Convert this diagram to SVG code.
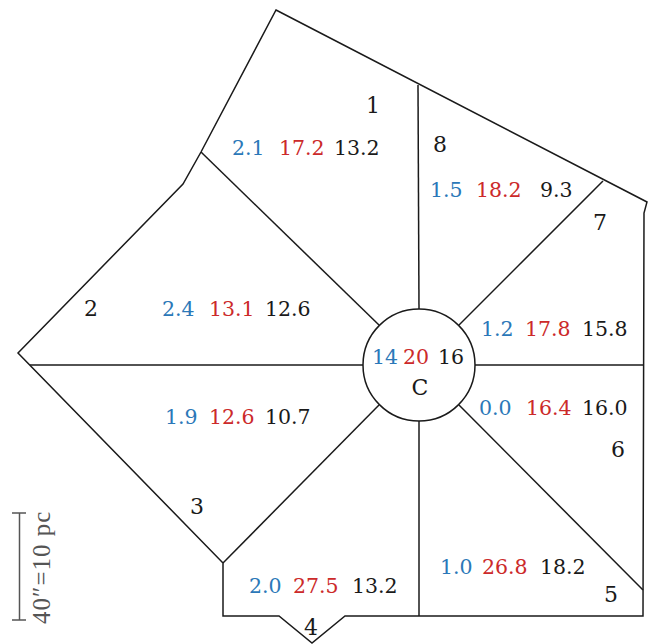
<svg xmlns="http://www.w3.org/2000/svg" width="655" height="644" viewBox="0 0 655 644">
<style>
.ln{fill:none;stroke:#1a1a1a;stroke-width:1.5;stroke-linejoin:miter}
text{font-family:"DejaVu Serif","Liberation Serif",serif;font-size:20.5px}
.b{fill:#2b78b8}
.r{fill:#cc2a2a}
.k{fill:#1a1a1a}
.lab{fill:#1a1a1a;font-size:22px;text-anchor:middle}
</style>
<rect width="655" height="644" fill="#fff"/>
<g id="outline">
<polygon class="ln" points="276,10 647,202 644,213 643,616 345,616 312,643 279,616 223,616 223,563 18,353 183,184 201,152"/>
<circle class="ln" cx="419" cy="365" r="56"/>
</g>
<g id="connectors">
<line class="ln" x1="418" y1="85" x2="419" y2="309"/>
<line class="ln" x1="419" y1="421" x2="419" y2="616"/>
<line class="ln" x1="30" y1="365" x2="363" y2="365"/>
<line class="ln" x1="475" y1="365" x2="643" y2="365"/>
<line class="ln" x1="201" y1="152" x2="379" y2="325"/>
<line class="ln" x1="379" y1="405" x2="223" y2="563"/>
<line class="ln" x1="459" y1="325" x2="603" y2="181"/>
<line class="ln" x1="459" y1="405" x2="643" y2="590"/>
</g>
<g id="region1">
<text class="lab" x="373" y="113">1</text>
<text class="b" x="232" y="155">2.1</text><text class="r" x="279" y="155">17.2</text><text class="k" x="334" y="155">13.2</text>
</g>
<g id="region8">
<text class="lab" x="440" y="152">8</text>
<text class="b" x="430" y="197">1.5</text><text class="r" x="476" y="197">18.2</text><text class="k" x="540" y="197">9.3</text>
</g>
<g id="region2">
<text class="lab" x="91" y="316">2</text>
<text class="b" x="162" y="316">2.4</text><text class="r" x="209" y="316">13.1</text><text class="k" x="265" y="316">12.6</text>
</g>
<g id="region3">
<text class="lab" x="197" y="514">3</text>
<text class="b" x="165" y="424">1.9</text><text class="r" x="209" y="424">12.6</text><text class="k" x="265" y="424">10.7</text>
</g>
<g id="region4">
<text class="lab" x="311" y="635">4</text>
<text class="b" x="249" y="593">2.0</text><text class="r" x="293" y="593">27.5</text><text class="k" x="352" y="593">13.2</text>
</g>
<g id="region5">
<text class="lab" x="611" y="602">5</text>
<text class="b" x="440" y="574">1.0</text><text class="r" x="482" y="574">26.8</text><text class="k" x="540" y="574">18.2</text>
</g>
<g id="region6">
<text class="lab" x="618" y="457">6</text>
<text class="b" x="479" y="415">0.0</text><text class="r" x="526" y="415">16.4</text><text class="k" x="582" y="415">16.0</text>
</g>
<g id="region7">
<text class="lab" x="600" y="230">7</text>
<text class="b" x="481" y="336">1.2</text><text class="r" x="525" y="336">17.8</text><text class="k" x="582" y="336">15.8</text>
</g>
<g id="regionC">
<text class="b" x="372" y="364">14</text><text class="r" x="403" y="364">20</text><text class="k" x="438" y="364">16</text>
<text class="lab" x="420" y="395">C</text>
</g>
<g id="scale">
<line x1="19.5" y1="513" x2="19.5" y2="620" stroke="#555" stroke-width="1.5"/>
<line x1="12" y1="513" x2="26" y2="513" stroke="#555" stroke-width="1.5"/>
<line x1="12" y1="620" x2="26" y2="620" stroke="#555" stroke-width="1.5"/>
<text transform="translate(50,624) rotate(-90)" style="font-family:'Liberation Serif',serif;font-size:25px;letter-spacing:1px;fill:#555">40″=10  pc</text>
</g>
</svg>
